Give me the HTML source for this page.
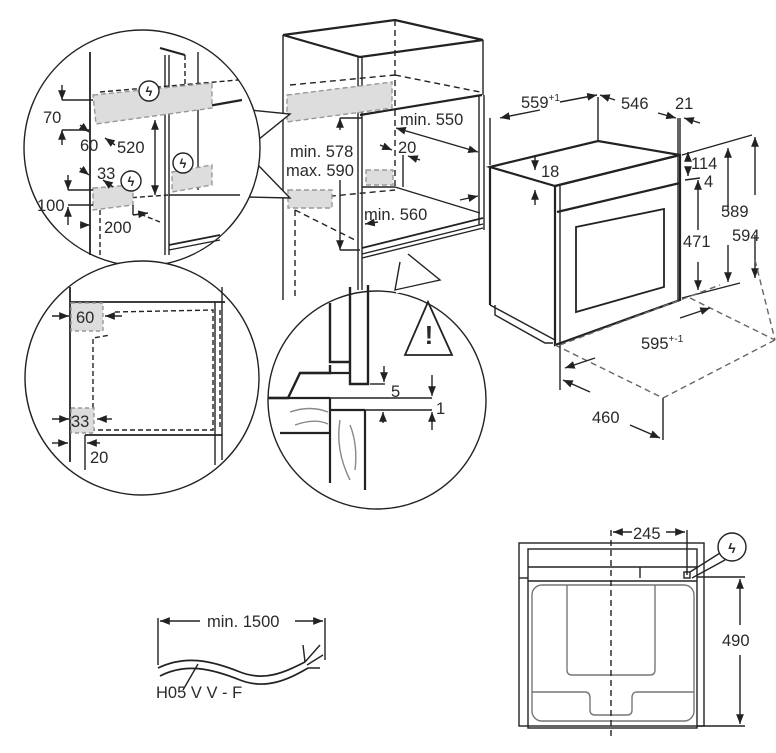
<!DOCTYPE html>
<html><head><meta charset="utf-8"><style>
html,body{margin:0;padding:0;background:#fff;}
svg{display:block;}
text{font-family:"Liberation Sans",Arial,sans-serif;fill:#2a2a2a;}
</style></head><body>
<svg width="776" height="753" viewBox="0 0 776 753" xmlns="http://www.w3.org/2000/svg">
<defs>
<marker id="a" viewBox="0 0 10 10" refX="10" refY="5" markerWidth="7" markerHeight="7" orient="auto-start-reverse"><path d="M0,1 L10,5 L0,9 z" fill="#222"/></marker>
</defs>
<g stroke="#222" fill="none" stroke-width="1.4">

<!-- Cabinet -->
<path d="M283,35 L395,20 L483,40 L360,57 Z" stroke-width="2.2"/>
<line x1="283" y1="35" x2="283" y2="300"/>
<line x1="358" y1="56" x2="358" y2="290"/>
<line x1="362" y1="56" x2="362" y2="290"/>
<line x1="483" y1="40" x2="483" y2="95"/>
<line x1="479" y1="95" x2="479" y2="225"/>
<line x1="484" y1="95" x2="484" y2="230"/>
<line x1="360" y1="115" x2="482" y2="95" stroke-width="2.2"/>
<line x1="362" y1="248" x2="483" y2="218" stroke-width="1.8"/>
<line x1="362" y1="254" x2="483" y2="224"/>
<line x1="362" y1="258" x2="483" y2="228"/>
<line x1="395" y1="20" x2="395" y2="190" stroke-dasharray="6,4"/>
<line x1="362" y1="187" x2="395" y2="187"/>
<line x1="395" y1="187" x2="480" y2="213"/>
<line x1="290" y1="85" x2="395" y2="75" stroke-dasharray="6,4"/>
<line x1="395" y1="75" x2="480" y2="92" stroke-dasharray="6,4"/>
<line x1="290" y1="200" x2="395" y2="190" stroke-dasharray="6,4"/>
<line x1="295" y1="210" x2="295" y2="300" stroke-dasharray="6,4"/>
<line x1="295" y1="210" x2="355" y2="240" stroke-dasharray="6,4"/>
<polygon points="287,95 392,82 392,108 287,122" fill="#ddd" stroke="#999" stroke-dasharray="5,3"/>
<rect x="288" y="190" width="44" height="18" fill="#ddd" stroke="#999" stroke-dasharray="5,3"/>
<rect x="366" y="170" width="27" height="15" fill="#ddd" stroke="#999" stroke-dasharray="5,3"/>
<line x1="340" y1="130" x2="340" y2="118" marker-end="url(#a)"/>
<line x1="340" y1="118" x2="362" y2="118"/>
<line x1="340" y1="180" x2="340" y2="250" marker-end="url(#a)"/>
<line x1="340" y1="250" x2="360" y2="250"/>
<line x1="396" y1="128" x2="478" y2="152" marker-end="url(#a)" marker-start="url(#a)"/>
<line x1="380" y1="145" x2="392" y2="150" marker-end="url(#a)"/>
<line x1="420" y1="160" x2="408" y2="156" marker-end="url(#a)"/>
<line x1="403" y1="155" x2="403" y2="187"/>
<line x1="460" y1="200" x2="478" y2="196" marker-end="url(#a)"/>
<line x1="378" y1="222" x2="365" y2="224" marker-end="url(#a)"/>
</g>
<g font-size="16.5">
<text x="400" y="125">min. 550</text>
<text x="398" y="153">20</text>
<text x="290" y="157">min. 578</text>
<text x="286" y="176">max. 590</text>
<text x="364" y="220">min. 560</text>
</g>

<!-- Circle 1 -->
<g stroke="#222" fill="none" stroke-width="1.4">
<path d="M250,110 L290,114 L258,140 L258,165 L290,198 L247,197" fill="#fff"/>
<circle cx="142" cy="148" r="118" fill="#fff"/>
<path d="M250,113 L256,140 L256,165 L246,194" stroke="#fff" stroke-width="3"/>
<line x1="90" y1="52" x2="90" y2="255" stroke-width="1.8"/>
<line x1="160" y1="48" x2="185" y2="55" stroke-width="2.2"/>
<line x1="165" y1="55" x2="165" y2="255"/>
<line x1="169" y1="55" x2="169" y2="255"/>
<line x1="185" y1="55" x2="185" y2="100" stroke-dasharray="5,3"/>
<line x1="169" y1="113" x2="242" y2="100" stroke-width="2.2"/>
<line x1="169" y1="195" x2="240" y2="195"/>
<line x1="198" y1="52" x2="198" y2="190"/>
<line x1="169" y1="245" x2="220" y2="235" stroke-width="1.8"/>
<line x1="169" y1="250" x2="220" y2="240"/>
<line x1="100" y1="92" x2="238" y2="80" stroke-dasharray="5,3"/>
<line x1="100" y1="200" x2="168" y2="195" stroke-dasharray="5,3"/>
<line x1="100" y1="210" x2="100" y2="258" stroke-dasharray="5,3"/>
<line x1="160" y1="222" x2="140" y2="214" stroke-dasharray="5,3"/>
<polygon points="93,95 212,83 212,108 96,124" fill="#ddd" stroke="#999" stroke-dasharray="5,3"/>
<polygon points="172,172 212,165 212,185 172,192" fill="#ddd" stroke="#999" stroke-dasharray="5,3"/>
<polygon points="93,188 133,185 133,205 93,210" fill="#ddd" stroke="#999" stroke-dasharray="5,3"/>
<circle cx="149" cy="91" r="10" fill="#fff"/>
<circle cx="183" cy="163" r="10" fill="#fff"/>
<circle cx="131" cy="181" r="10" fill="#fff"/>
<line x1="62" y1="100" x2="93" y2="100"/><line x1="62" y1="130" x2="90" y2="130"/>
<line x1="62" y1="85" x2="62" y2="100" marker-end="url(#a)"/>
<line x1="62" y1="145" x2="62" y2="130" marker-end="url(#a)"/>
<line x1="80" y1="125" x2="89" y2="132" marker-end="url(#a)"/>
<line x1="105" y1="138" x2="115" y2="145" marker-start="url(#a)"/>
<line x1="155" y1="120" x2="155" y2="195" marker-start="url(#a)" marker-end="url(#a)"/>
<line x1="80" y1="168" x2="89" y2="175" marker-end="url(#a)"/>
<line x1="103" y1="180" x2="113" y2="187" marker-start="url(#a)"/>
<line x1="68" y1="190" x2="93" y2="190"/><line x1="68" y1="205" x2="93" y2="205"/>
<line x1="68" y1="175" x2="68" y2="190" marker-end="url(#a)"/>
<line x1="68" y1="225" x2="68" y2="207" marker-end="url(#a)"/>
<line x1="80" y1="225" x2="90" y2="225" marker-end="url(#a)"/>
<line x1="133" y1="205" x2="133" y2="215"/><line x1="133" y1="215" x2="148" y2="213" marker-end="url(#a)"/>
</g>
<g font-size="16.5">
<text x="43" y="123">70</text>
<text x="80" y="151">60</text>
<text x="117" y="153">520</text>
<text x="97" y="179">33</text>
<text x="37" y="211">100</text>
<text x="104" y="233">200</text>
</g>
<g font-size="13" text-anchor="middle" font-weight="bold"><text x="149" y="96">ϟ</text><text x="183" y="168">ϟ</text><text x="131" y="186">ϟ</text></g>

<!-- Circle 2 -->
<g stroke="#222" fill="none" stroke-width="1.4">
<circle cx="142" cy="378" r="117" fill="#fff"/>
<line x1="70" y1="287" x2="70" y2="462" stroke-width="1.8"/>
<line x1="70" y1="302" x2="225" y2="302" stroke-width="1.8"/>
<line x1="222" y1="287" x2="222" y2="302"/>
<line x1="215" y1="302" x2="215" y2="465"/>
<line x1="222" y1="302" x2="222" y2="460"/>
<line x1="85" y1="435" x2="222" y2="435" stroke-width="1.8"/>
<line x1="85" y1="435" x2="85" y2="470"/>
<polyline points="115,312 213,310 213,430 93,430 93,338 110,335" stroke-dasharray="5,3"/>
<polyline points="220,310 220,430" stroke-dasharray="5,3"/>
<rect x="71" y="303" width="32" height="28" fill="#ddd" stroke="#999" stroke-dasharray="4,3"/>
<rect x="71" y="408" width="23" height="25" fill="#ddd" stroke="#999" stroke-dasharray="4,3"/>
<line x1="52" y1="316" x2="69" y2="316" marker-end="url(#a)"/>
<line x1="122" y1="316" x2="105" y2="316" marker-end="url(#a)"/>
<line x1="52" y1="419" x2="69" y2="419" marker-end="url(#a)"/>
<line x1="112" y1="419" x2="97" y2="419" marker-end="url(#a)"/>
<line x1="52" y1="443" x2="68" y2="443" marker-end="url(#a)"/>
<line x1="100" y1="443" x2="87" y2="443" marker-end="url(#a)"/>
</g>
<g font-size="16.5"><text x="76" y="323">60</text><text x="71" y="427">33</text><text x="90" y="463">20</text></g>

<!-- Circle 3 -->
<g stroke="#222" fill="none" stroke-width="1.4">
<path d="M400,262 L395,290 L440,280 L408,254" fill="#fff"/>
<circle cx="377" cy="400" r="109" fill="#fff"/>
<path d="M396,292 L437,283" stroke="#fff" stroke-width="3"/>
<polyline points="350,287 350,384 368,384 368,285" stroke-width="2.4"/>
<polyline points="330,303 330,362 350,362" stroke-width="2.4"/>
<polyline points="268,398 288,398 300,373 330,373 330,365" stroke-width="2.4"/>
<line x1="300" y1="373" x2="350" y2="373" stroke-width="2.2"/>
<polyline points="330,398 330,483" stroke-width="2.2"/>
<line x1="268" y1="398" x2="330" y2="398" stroke-width="2.2"/>
<line x1="330" y1="410" x2="365" y2="410" stroke-width="2.2"/>
<line x1="280" y1="433" x2="330" y2="433" stroke-width="2.2"/>
<line x1="365" y1="410" x2="365" y2="490" stroke-width="2.2"/>
<line x1="330" y1="398" x2="432" y2="398"/>
<line x1="365" y1="410" x2="432" y2="410"/>
<line x1="370" y1="384" x2="385" y2="384"/>
<line x1="384" y1="366" x2="384" y2="382" marker-end="url(#a)"/>
<line x1="432" y1="375" x2="432" y2="396" marker-end="url(#a)"/>
<line x1="432" y1="430" x2="432" y2="412" marker-end="url(#a)"/>
<line x1="383" y1="423" x2="383" y2="412" marker-end="url(#a)"/>
<path d="M290,412 Q310,405 328,412 M295,425 Q315,418 328,424 M340,420 Q335,450 350,480 M350,425 Q358,445 355,470" stroke="#888"/>
<polygon points="405,355 428,302 452,355" stroke-width="1.8"/>
</g>
<text x="429" y="344" font-size="26" font-weight="bold" text-anchor="middle" fill="#222">!</text>
<g font-size="16.5"><text x="391" y="397">5</text><text x="436" y="414">1</text></g>

<!-- Oven -->
<g stroke="#222" fill="none" stroke-width="1.4">
<path d="M490,167 L598,141 L680,155 L555,186 Z" stroke-width="2.2"/>
<line x1="490" y1="167" x2="490" y2="305" stroke-width="2.2"/>
<line x1="490" y1="305" x2="555" y2="340"/>
<path d="M495,305 L495,315 L545,343 L553,343" />
<path d="M555,186 L680,155 L680,300 L555,345 Z" stroke-width="2.2"/>
<line x1="560" y1="186" x2="560" y2="345"/>
<line x1="557" y1="212" x2="680" y2="183" stroke-width="2.2"/>
<path d="M576,227 L664,209 L664,287 L576,312 Z" stroke-width="1.8"/>
<line x1="598" y1="97" x2="598" y2="141"/>
<line x1="490" y1="118" x2="490" y2="165"/>
<line x1="680" y1="118" x2="680" y2="155"/>
<line x1="678" y1="118" x2="678" y2="300"/>
<line x1="500" y1="118" x2="540" y2="110" marker-start="url(#a)"/>
<line x1="560" y1="102" x2="597" y2="95" marker-end="url(#a)"/>
<line x1="600" y1="95" x2="615" y2="100" marker-start="url(#a)"/>
<line x1="658" y1="113" x2="676" y2="118" marker-end="url(#a)"/>
<line x1="684" y1="118" x2="700" y2="123" marker-start="url(#a)"/>
<line x1="682" y1="155" x2="752" y2="135"/>
<line x1="685" y1="180" x2="700" y2="178"/>
<line x1="682" y1="298" x2="740" y2="283"/>
<line x1="535" y1="155" x2="535" y2="170" marker-end="url(#a)"/>
<line x1="535" y1="205" x2="535" y2="190" marker-end="url(#a)"/>
<line x1="688" y1="160" x2="688" y2="152" marker-end="url(#a)"/>
<line x1="688" y1="168" x2="688" y2="176" marker-end="url(#a)"/>
<line x1="698" y1="230" x2="698" y2="180" marker-end="url(#a)"/>
<line x1="698" y1="262" x2="698" y2="290" marker-end="url(#a)"/>
<line x1="728" y1="148" x2="728" y2="210" marker-start="url(#a)"/>
<line x1="728" y1="245" x2="728" y2="282" marker-end="url(#a)"/>
<line x1="755" y1="137" x2="755" y2="195" marker-start="url(#a)"/>
<line x1="755" y1="235" x2="755" y2="278" marker-end="url(#a)"/>
<g stroke-dasharray="6,4" stroke="#666">
<line x1="555" y1="345" x2="663" y2="398"/>
<line x1="663" y1="398" x2="775" y2="340"/>
<line x1="690" y1="298" x2="775" y2="340"/>
<line x1="755" y1="260" x2="775" y2="340"/>
<line x1="560" y1="345" x2="720" y2="285"/>
</g>
<line x1="560" y1="345" x2="560" y2="390"/>
<line x1="663" y1="398" x2="663" y2="440"/>
<line x1="595" y1="358" x2="565" y2="368" marker-end="url(#a)"/>
<line x1="680" y1="318" x2="710" y2="308" marker-end="url(#a)"/>
<line x1="590" y1="392" x2="563" y2="380" marker-end="url(#a)"/>
<line x1="630" y1="425" x2="660" y2="438" marker-end="url(#a)"/>
</g>
<g font-size="16.5">
<text x="521" y="108">559<tspan font-size="10" dy="-7">+1</tspan></text>
<text x="621" y="109">546</text>
<text x="675" y="109">21</text>
<text x="541" y="177">18</text>
<text x="691" y="169">114</text>
<text x="704" y="187">4</text>
<text x="683" y="247">471</text>
<text x="721" y="217">589</text>
<text x="732" y="241">594</text>
<text x="641" y="349">595<tspan font-size="10" dy="-7">+-1</tspan></text>
<text x="592" y="423">460</text>
</g>

<!-- Cable -->
<g stroke="#222" fill="none" stroke-width="1.4">
<line x1="158" y1="618" x2="158" y2="665"/>
<line x1="325" y1="618" x2="325" y2="660"/>
<line x1="200" y1="621" x2="160" y2="621" marker-end="url(#a)"/>
<line x1="295" y1="621" x2="323" y2="621" marker-end="url(#a)"/>
<path d="M158,668 C185,655 210,660 240,672 C265,682 285,672 305,662" stroke-width="1.7"/>
<path d="M160,676 C185,663 210,668 240,680 C265,690 288,680 308,668" stroke-width="1.7"/>
<path d="M305,662 L320,645 M307,665 L323,655 M308,668 L320,668 M305,662 L303,645"/>
<line x1="198" y1="664" x2="183" y2="690"/>
</g>
<g font-size="16.5"><text x="207" y="627">min. 1500</text><text x="156" y="698">H05 V V - F</text></g>

<!-- Back view -->
<g stroke="#222" fill="none" stroke-width="1.4">
<rect x="519" y="543" width="185" height="183"/>
<rect x="528" y="549" width="169" height="179"/>
<line x1="528" y1="567" x2="697" y2="567"/>
<line x1="528" y1="581" x2="697" y2="581"/>
<line x1="640" y1="567" x2="640" y2="578"/>
<line x1="519" y1="578" x2="528" y2="578"/>
<rect x="532" y="585" width="162" height="136" rx="10" stroke="#777"/>
<path d="M567,585 L567,670 Q567,675 572,675 L650,675 Q655,675 655,670 L655,585" stroke="#777"/>
<path d="M532,692 L585,692 Q590,692 590,698 L590,710 Q590,715 595,715 L627,715 Q632,715 632,710 L632,698 Q632,692 637,692 L694,692" stroke="#777"/>
<line x1="611" y1="530" x2="611" y2="740" stroke-dasharray="6,4"/>
<line x1="687" y1="530" x2="687" y2="575"/>
<rect x="684" y="572" width="6" height="6"/>
<circle cx="732" cy="547" r="14" fill="#fff"/>
<path d="M690,572 L720,553 M692,578 L725,560" />
<line x1="632" y1="532" x2="613" y2="532" marker-end="url(#a)"/>
<line x1="666" y1="532" x2="685" y2="532" marker-end="url(#a)"/>
<line x1="697" y1="577" x2="745" y2="577"/>
<line x1="697" y1="726" x2="745" y2="726"/>
<line x1="740" y1="625" x2="740" y2="579" marker-end="url(#a)"/>
<line x1="740" y1="655" x2="740" y2="724" marker-end="url(#a)"/>
</g>
<text x="732" y="553" font-size="14" font-weight="bold" text-anchor="middle">ϟ</text>
<g font-size="16.5"><text x="633" y="539">245</text><text x="722" y="646">490</text></g>
</svg>
</body></html>
